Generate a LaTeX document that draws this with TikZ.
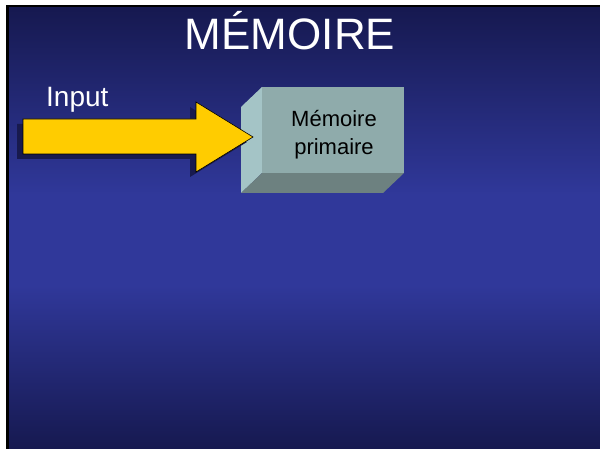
\documentclass[tikz,border=0pt]{standalone}
\usepackage{fontspec}
\setmainfont{Liberation Sans}
\definecolor{slidedark}{HTML}{161950}
\definecolor{slidemid}{HTML}{30389A}
\definecolor{arrowfill}{HTML}{FFCC00}
\definecolor{arrowshadow}{HTML}{181A4E}
\definecolor{boxfront}{HTML}{8FABAB}
\definecolor{boxside}{HTML}{A4C4C6}
\definecolor{boxbottom}{HTML}{6D8180}

\begin{document}
\begin{tikzpicture}[x=1pt, y=-1pt,
  label/.style={text=white, inner sep=0pt},
  face/.style={draw=none}]
\useasboundingbox (0,0) rectangle (600,449);

%frame
\fill[white] (0,0) rectangle (600,449);
\fill[black] (6,5) rectangle (600,449);
\shade[top color=slidedark, bottom color=slidemid] (9,8) rectangle (600,195);
\fill[slidemid] (9,194) rectangle (600,286);
\shade[top color=slidemid, bottom color=slidedark] (9,285) rectangle (600,449);

%title
\node[label, font=\fontsize{44}{50}\selectfont, anchor=base] (title) at (290,50) {MÉMOIRE};

%memory block
\fill[boxside] (241,107) -- (262,87) -- (262,173) -- (241,193) -- cycle;
\fill[boxbottom] (262,173) -- (404,173) -- (383,193) -- (241,193) -- cycle;
\fill[boxfront] (262,87) rectangle (404,173);
\node[align=center, font=\fontsize{22}{28}\selectfont, inner sep=0pt] (mem) at (334,135) {Mémoire\\primaire};

%input arrow
\fill[arrowshadow, shift={(-6,5)}] (23,119) -- (196,119) -- (196,102) -- (253,137) -- (196,172) -- (196,154) -- (23,154) -- cycle;
\draw[fill=arrowfill, line width=0.6pt] (23,119) -- (196,119) -- (196,102) -- (253,137) -- (196,172) -- (196,154) -- (23,154) -- cycle;
\node[label, font=\fontsize{28}{32}\selectfont, anchor=base west] (input) at (46,107) {Input};
\end{tikzpicture}
\end{document}
